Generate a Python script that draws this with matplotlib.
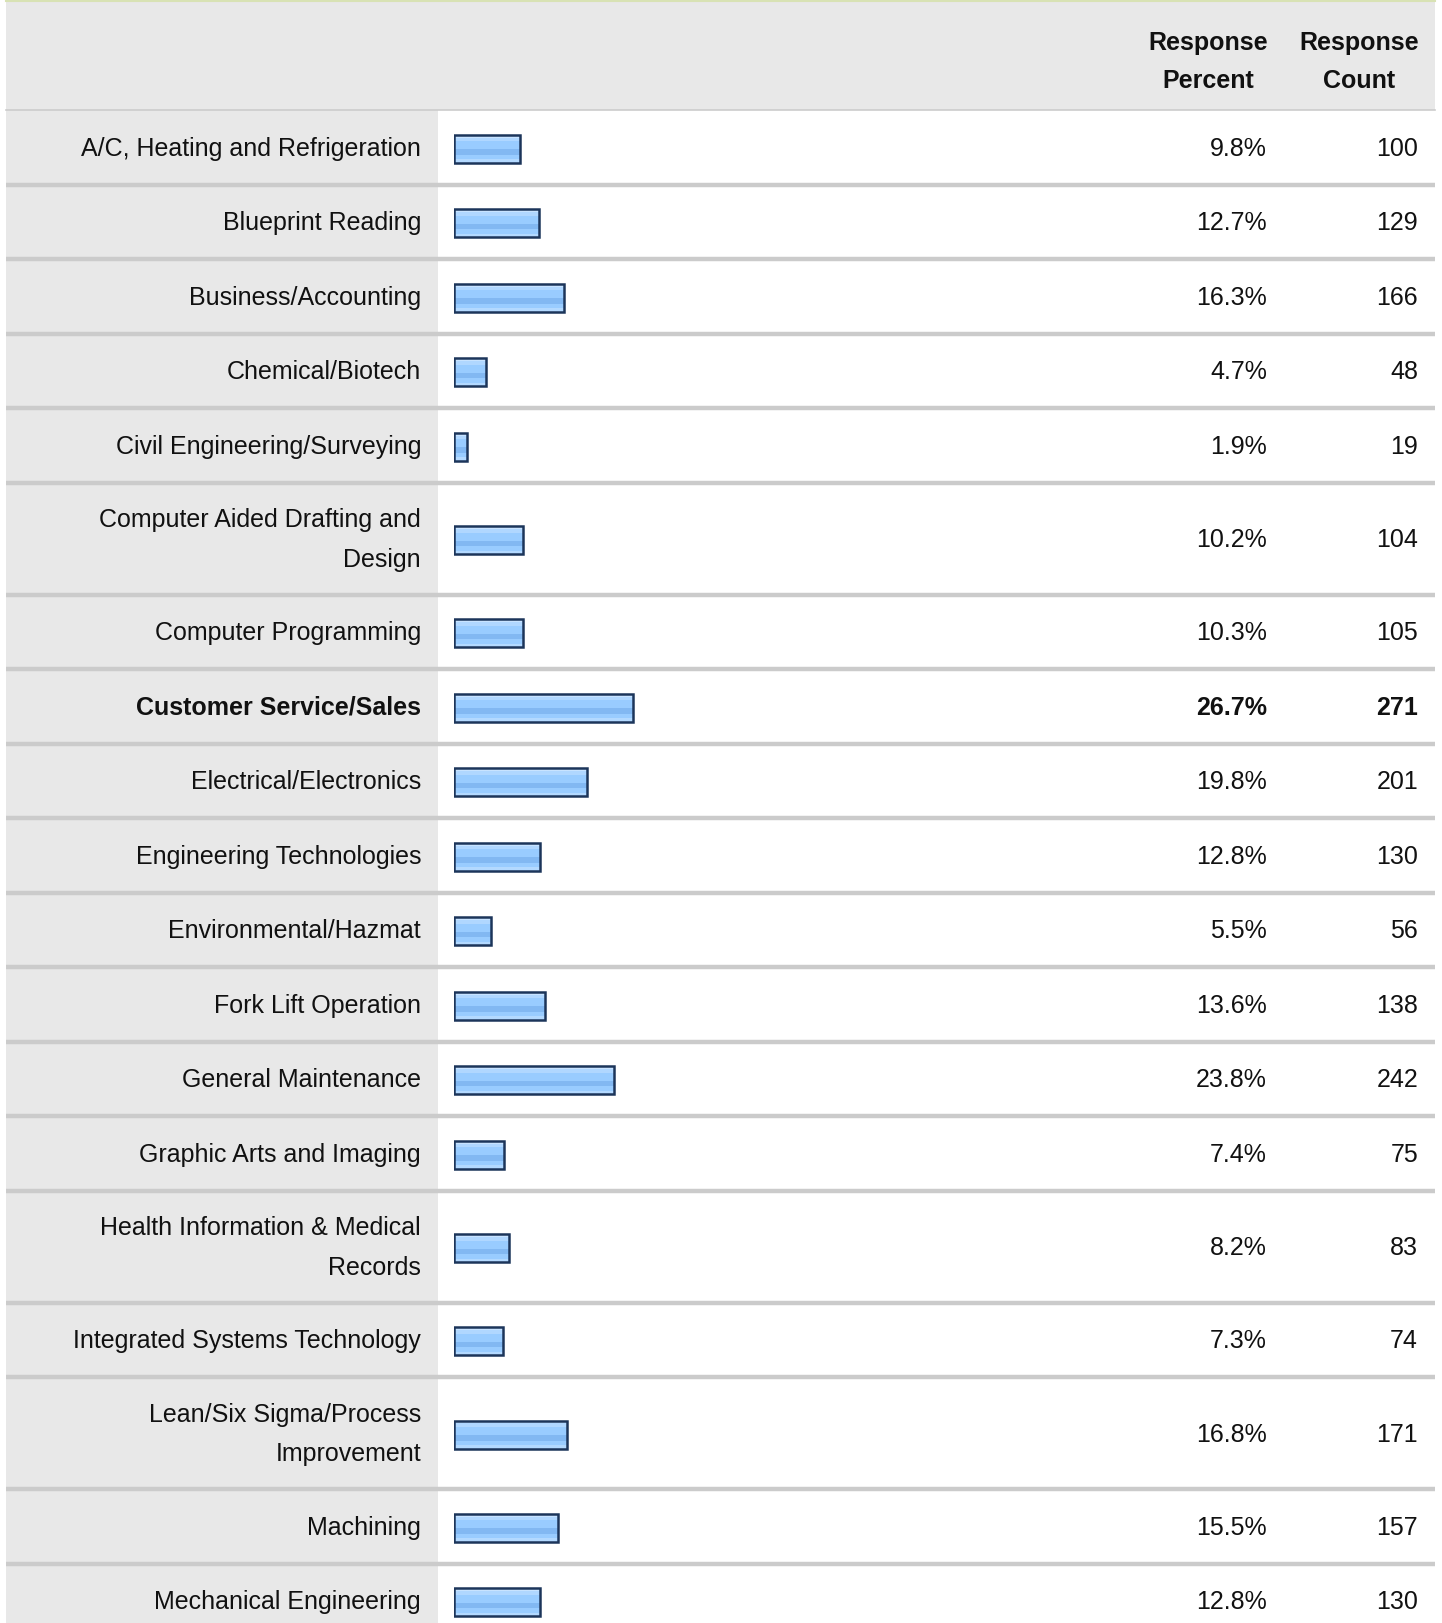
'''
    Survey result table: training interest by area, with small bar per row.
'''
import numpy as np
import matplotlib
matplotlib.use('Agg')
import matplotlib.pyplot as plt

plt.rcParams['font.family'] = ['Liberation Sans', 'DejaVu Sans']

# Survey data
labels = ['A/C, Heating and Refrigeration', 'Blueprint Reading', 'Business/Accounting',
          'Chemical/Biotech', 'Civil Engineering/Surveying',
          'Computer Aided Drafting and\nDesign', 'Computer Programming',
          'Customer Service/Sales', 'Electrical/Electronics', 'Engineering Technologies',
          'Environmental/Hazmat', 'Fork Lift Operation', 'General Maintenance',
          'Graphic Arts and Imaging', 'Health Information & Medical\nRecords',
          'Integrated Systems Technology', 'Lean/Six Sigma/Process\nImprovement',
          'Machining', 'Mechanical Engineering']
percents = [9.8, 12.7, 16.3, 4.7, 1.9, 10.2, 10.3, 26.7, 19.8, 12.8,
            5.5, 13.6, 23.8, 7.4, 8.2, 7.3, 16.8, 15.5, 12.8]
counts = [100, 129, 166, 48, 19, 104, 105, 271, 201, 130,
          56, 138, 242, 75, 83, 74, 171, 157, 130]
highlight = 'Customer Service/Sales'

# Layout (pixels)
W, H = 1442, 1623
LEFT, RIGHT = 6, 1435
LABEL_RIGHT = 438
HEADER_H = 110
ROW_H1, ROW_H2 = 74.5, 112
BAR_X0 = 454
PX_PER_PCT = 6.72
BAR_H = 28
TXT = '#111111'
FS = 18

fig = plt.figure(figsize=(W / 100, H / 100), dpi=100)
ax = fig.add_axes([0, 0, 1, 1])
ax.set_xlim(0, W)
ax.set_ylim(H, 0)
ax.axis('off')

# header
ax.add_patch(plt.Rectangle((LEFT, 2), RIGHT - LEFT, HEADER_H - 2, color='#e8e8e8', lw=0))
ax.plot([LEFT, RIGHT], [1, 1], color='#d8e2b4', lw=1.5)
ax.plot([LEFT, RIGHT], [HEADER_H, HEADER_H], color='#cccccc', lw=1.2)
for xc, txt in [(1208, 'Response\nPercent'), (1359, 'Response\nCount')]:
    ax.text(xc, 62, txt, ha='center', va='center', fontsize=18,
            fontweight='bold', color=TXT, linespacing=1.75)

# rows
heights = [ROW_H2 if '\n' in lab else ROW_H1 for lab in labels]
tops = HEADER_H + np.concatenate([[0], np.cumsum(heights)[:-1]])
centers = tops + np.array(heights) / 2

ax.add_patch(plt.Rectangle((LEFT, HEADER_H), LABEL_RIGHT - LEFT, H - HEADER_H,
                           color='#e8e8e8', lw=0, zorder=0))
for top, h in zip(tops, heights):
    ax.plot([LEFT, RIGHT], [top + h, top + h], color='#cbcbcb', lw=3.2,
            solid_capstyle='butt')

for lab, pct, cnt, yc in zip(labels, percents, counts, centers):
    wt = 'bold' if lab == highlight else 'normal'
    ty = yc + 1.5
    ax.text(421, ty, lab, ha='right', va='center', fontsize=FS, color=TXT,
            fontweight=wt, linespacing=1.8)
    ax.text(1267, ty, '%.1f%%' % pct, ha='right', va='center', fontsize=FS,
            color=TXT, fontweight=wt)
    ax.text(1418, ty, '%d' % cnt, ha='right', va='center', fontsize=FS,
            color=TXT, fontweight=wt)

# bars, drawn in their own axes with x in percent
bw_px = 700
bax = fig.add_axes([BAR_X0 / W, 0, bw_px / W, 1])
bax.set_xlim(0, bw_px / PX_PER_PCT)
bax.set_ylim(H, 0)
bax.axis('off')
bax.patch.set_alpha(0)

stripes = [(0.10, '#c8e3ff'), (0.14, '#b0d7ff'), (0.28, '#99ccff'),
           (0.20, '#82b8f2'), (0.16, '#99ccff'), (0.12, '#b3d9ff')]
bar_tops = centers + 1.5 - BAR_H / 2
off = 0
for frac, col in stripes:
    bax.barh(bar_tops + off * BAR_H, percents, height=frac * BAR_H, left=0,
             align='edge', color=col, lw=0)
    off += frac
bax.barh(centers + 1.5, percents, height=BAR_H, left=0, fill=False,
         edgecolor='#1c355a', lw=1.8)

fig.savefig('out.png', dpi=100)
